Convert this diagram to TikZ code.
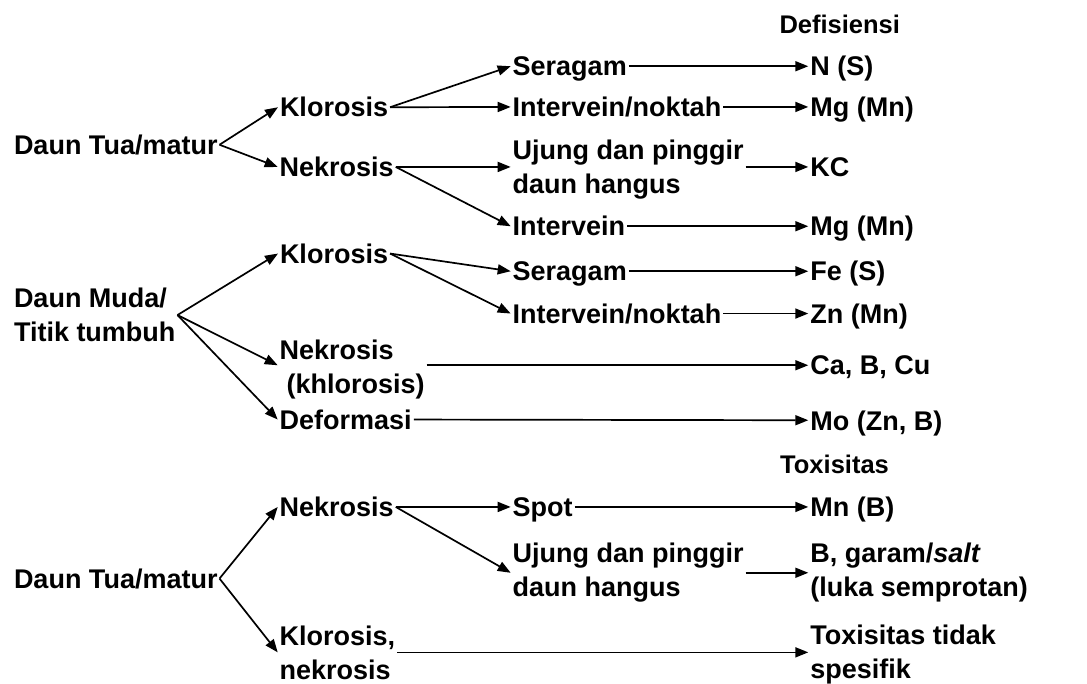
\documentclass[tikz,border=0pt]{standalone}
\usepackage{fontspec}
\setmainfont{Liberation Sans}
\usetikzlibrary{arrows.meta}
\tikzset{
  lbl/.style={anchor=base west, inner sep=0pt, outer sep=2pt,
    font=\bfseries\fontsize{27}{34}\selectfont, text height=19.5pt, text depth=0pt},
  mlbl/.style={anchor=base west, inner sep=0pt, outer sep=2pt, align=left,
    font=\bfseries\fontsize{27}{34}\selectfont},
  hdr/.style={anchor=base west, inner sep=0pt,
    font=\bfseries\fontsize{25.5}{30}\selectfont},
  arr/.style={-{Triangle[length=13pt,width=10pt]}, line width=1.7pt},
}
\begin{document}
\begin{tikzpicture}[x=1pt,y=-1pt]
\useasboundingbox (0,0) rectangle (1087,684);
% headers
\node[hdr] (def) at (779.3,33.3) {Defisiensi};
\node[hdr] (tox) at (780,473.3) {Toxisitas};
% top section
\node[lbl] (dt1) at (12,154.5) {Daun Tua/matur};
\node[lbl] (k1) at (278,117) {Klorosis};
\node[lbl] (n1) at (277.7,176.7) {Nekrosis};
\node[lbl] (s1) at (510.7,76) {Seragam};
\node[lbl] (iv1) at (510.7,116.7) {Intervein/noktah};
\node[mlbl] (uj1) at (510.7,193.3) {Ujung dan pinggir\\daun hangus};
\node[lbl] (iv2) at (510.7,236) {Intervein};
\node[lbl] (rns) at (808.3,76) {N (S)};
\node[lbl] (rmg1) at (808.3,116.7) {Mg (Mn)};
\node[lbl] (rkc) at (808.3,176.7) {KC};
\node[lbl] (rmg2) at (808.3,236) {Mg (Mn)};
% middle section
\node[mlbl] (dm) at (12,341.7) {Daun Muda/\\Titik tumbuh};
\node[lbl] (k2) at (278,263.3) {Klorosis};
\node[lbl] (s2) at (510.7,281) {Seragam};
\node[lbl] (iv3) at (510.7,323.3) {Intervein/noktah};
\node[lbl] (rfe) at (808.3,281) {Fe (S)};
\node[lbl] (rzn) at (808.3,323.3) {Zn (Mn)};
\node[mlbl] (nk2) at (277.7,393.3) {Nekrosis\\\hspace*{7pt}(khlorosis)};
\node[lbl] (rca) at (808.3,375) {Ca, B, Cu};
\node[lbl] (dfm) at (277.7,429.3) {Deformasi};
\node[lbl] (rmo) at (808.3,430) {Mo (Zn, B)};
% bottom section
\node[lbl] (dt2) at (12,588.3) {Daun Tua/matur};
\node[lbl] (n3) at (277.7,516.7) {Nekrosis};
\node[lbl] (sp) at (510.7,516.7) {Spot};
\node[lbl] (rmn) at (808.3,516.7) {Mn (B)};
\node[mlbl] (uj2) at (510.7,596.7) {Ujung dan pinggir\\daun hangus};
\node[mlbl] (rb) at (808.3,596.7) {B, garam/\textit{salt}\\(luka semprotan)};
\node[mlbl] (kn) at (277.7,679) {Klorosis,\\nekrosis};
\node[mlbl] (rtx) at (808.3,678) {Toxisitas tidak\\spesifik};
% connectors top
\draw[arr] (dt1.east) -- (k1.west);
\draw[arr] (dt1.east) -- (n1.west);
\draw[arr] (k1.east) -- (s1.west);
\draw[arr] (k1.east) -- (iv1.west);
\draw[arr] (n1.east) -- (uj1.west |- n1.east);
\draw[arr] (n1.east) -- (iv2.west);
\draw[arr] (s1.east) -- (rns.west);
\draw[arr] (iv1.east) -- (rmg1.west);
\draw[arr] (uj1.east |- rkc.west) -- (rkc.west);
\draw[arr] (iv2.east) -- (rmg2.west);
% connectors middle
\draw[arr] (dm.east) -- (k2.west);
\draw[arr] (dm.east) -- (nk2.west |- rca.west);
\draw[arr] (dm.east) -- (dfm.west);
\draw[arr] (k2.east) -- (s2.west);
\draw[arr] (k2.east) -- (iv3.west);
\draw[arr] (s2.east) -- (rfe.west);
\draw[arr] (iv3.east) -- (rzn.west);
\draw[arr] (nk2.east |- rca.west) -- (rca.west);
\draw[arr] (dfm.east) -- (rmo.west);
% connectors bottom
\draw[arr] (dt2.east) -- (n3.west);
\draw[arr] (dt2.east) -- (kn.west);
\draw[arr] (n3.east) -- (sp.west);
\draw[arr] (n3.east) -- (uj2.west);
\draw[arr] (sp.east) -- (rmn.west);
\draw[arr] (uj2.east) -- (rb.west |- uj2.east);
\draw[arr] (kn.east) -- (rtx.west |- kn.east);
\end{tikzpicture}
\end{document}
